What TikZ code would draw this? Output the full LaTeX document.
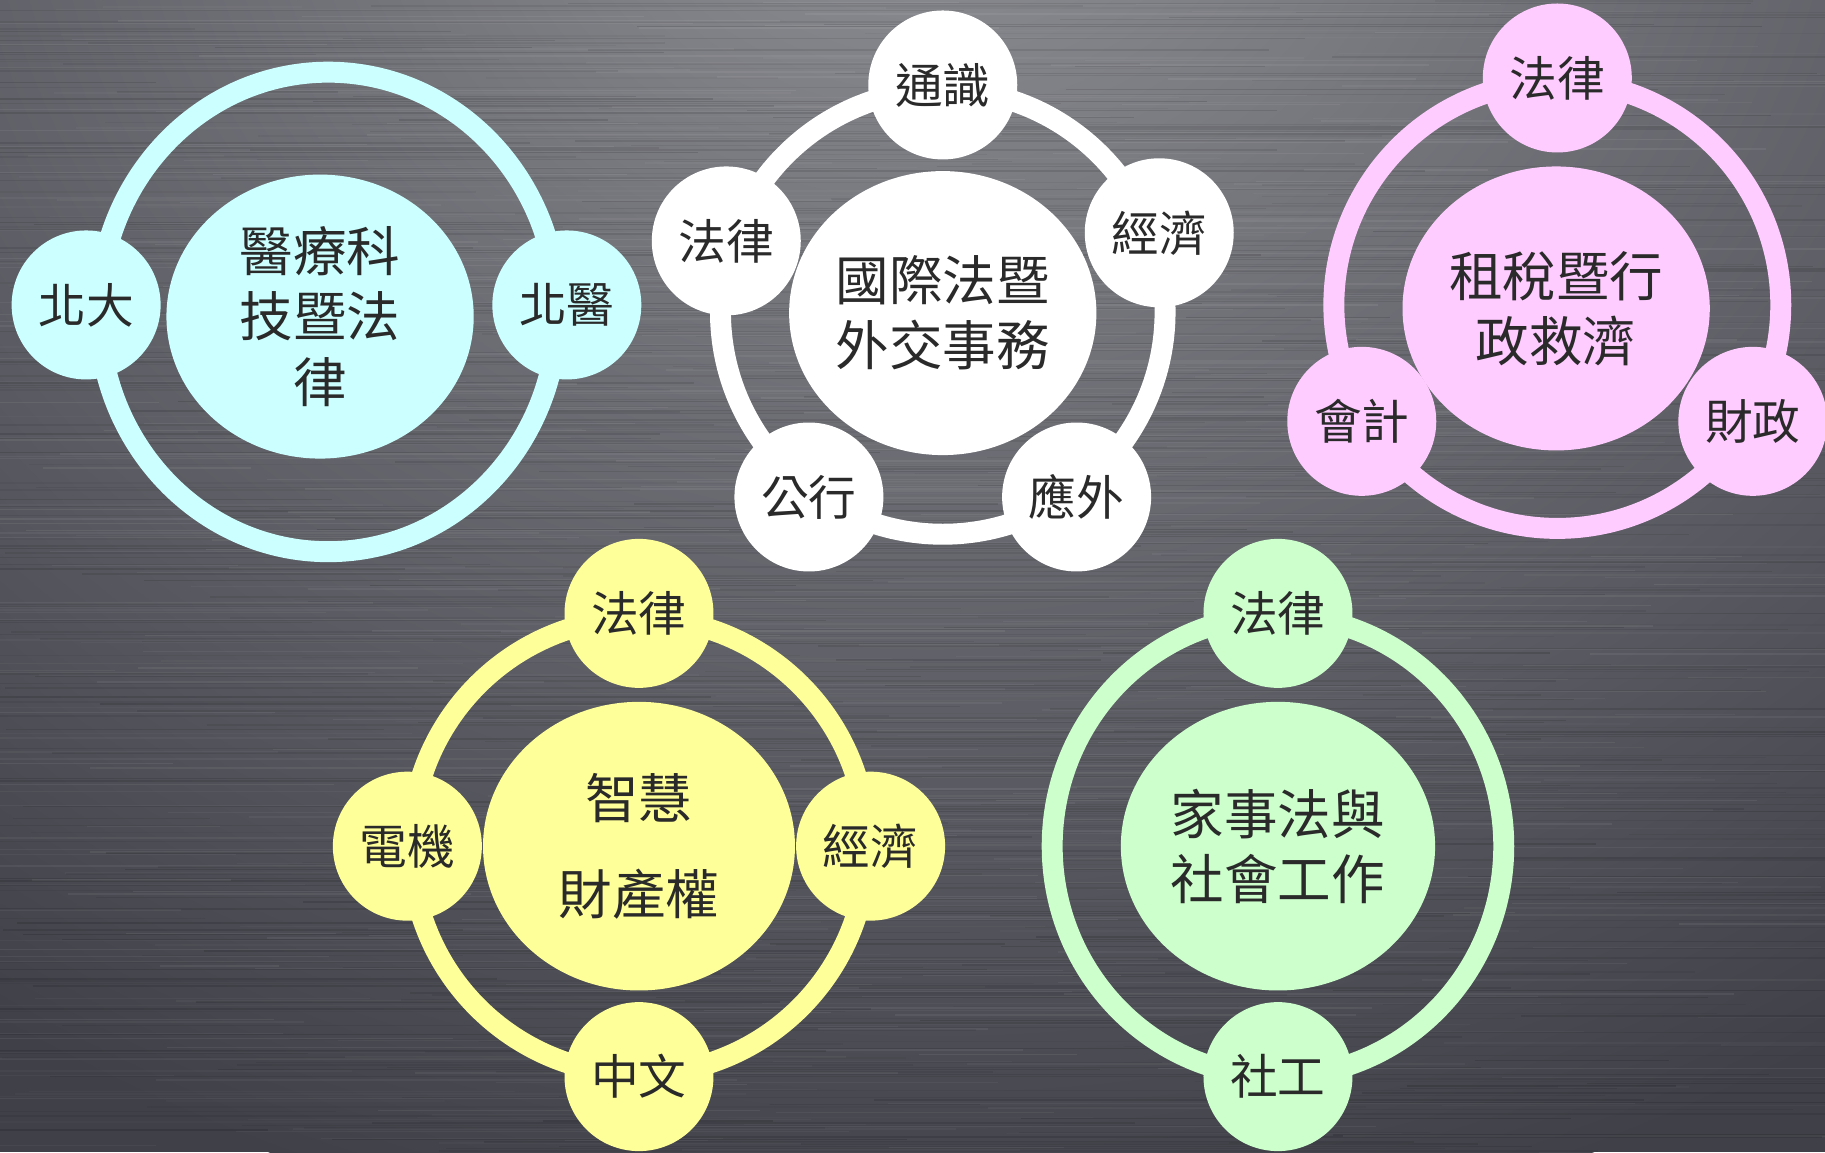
\documentclass[tikz,border=0pt]{standalone}
\usepackage{fontspec}
\newfontfamily\cjk{Noto Sans CJK TC}
\usetikzlibrary{shapes.geometric}
\definecolor{bgdark}{HTML}{3F4048}
\definecolor{bglight}{HTML}{909196}
\definecolor{cyanc}{HTML}{CCFFFF}
\definecolor{pinkc}{HTML}{FFCCFF}
\definecolor{yellowc}{HTML}{FFFF99}
\definecolor{greenc}{HTML}{CCFFCC}
\definecolor{whitec}{HTML}{FFFFFF}
\definecolor{txt}{HTML}{2A2A2A}
\begin{document}
\begin{tikzpicture}[x=0.5pt,y=-0.5pt,
  ring/.style={line width=9pt},
  streak/.style={line width=0.6pt},
  hub/.style={ellipse, minimum width=132pt, minimum height=122pt, inner sep=0pt,
    text=txt, font=\cjk\fontsize{23}{28}\selectfont, align=center},
  sat/.style={circle, minimum size=64pt, inner sep=0pt, text=txt,
    font=\cjk\fontsize{20.5}{24}\selectfont}]
% background
\fill[bgdark] (0,0) rectangle (1568,990);
\begin{scope}
  \clip (0,0) rectangle (1568,990);
  \shade[inner color=bglight, outer color=bgdark] (800,-160) ellipse (1450 and 1250);
  \pgfmathsetseed{7}
  \foreach \yy in {1,3,...,989} {
    \pgfmathsetmacro\xa{rnd*1568}
    \pgfmathsetmacro\la{150+rnd*900}
    \pgfmathsetmacro\oa{0.03+rnd*0.10}
    \draw[streak, black, opacity=\oa] (\xa-\la/2,\yy) -- (\xa+\la/2,\yy);
    \pgfmathsetmacro\xb{rnd*1568}
    \pgfmathsetmacro\lb{100+rnd*600}
    \pgfmathsetmacro\ob{0.02+rnd*0.05}
    \draw[streak, white, opacity=\ob] (\xb-\lb/2,\yy+1) -- (\xb+\lb/2,\yy+1);
  }
\end{scope}
\useasboundingbox (0,0) rectangle (1568,990);

% ---------- group 1 (cyan) ----------
\coordinate (r1) at (282,268);
\draw[ring, cyanc] (r1) ellipse (197 and 206);
\node[hub, fill=cyanc] (h1) at (275,272) {醫療科\\技暨法\\律};
\node[sat, fill=cyanc] (s1a) at (74,262) {北大};
\node[sat, fill=cyanc] (s1b) at (487,262) {北醫};

% ---------- group 2 (white) ----------
\coordinate (r2) at (810,268);
\draw[ring, whitec] (r2) circle (191);
\node[hub, fill=whitec] (h2) at (810,269) {國際法暨\\外交事務};
\node[sat, fill=whitec] (s2a) at (810,73) {通識};
\node[sat, fill=whitec] (s2b) at (996,200) {經濟};
\node[sat, fill=whitec] (s2c) at (925,427) {應外};
\node[sat, fill=whitec] (s2d) at (695,427) {公行};
\node[sat, fill=whitec] (s2e) at (624,207) {法律};

% ---------- group 3 (pink) ----------
\coordinate (r3) at (1338,262);
\draw[ring, pinkc] (r3) circle (192);
\node[hub, fill=pinkc] (h3) at (1337,265) {租稅暨行\\政救濟};
\node[sat, fill=pinkc] (s3a) at (1338,67) {法律};
\node[sat, fill=pinkc] (s3b) at (1170,362) {會計};
\node[sat, fill=pinkc] (s3c) at (1506,362) {財政};

% ---------- group 4 (yellow) ----------
\coordinate (r4) at (549,727);
\draw[ring, yellowc] (r4) circle (196);
\node[hub, fill=yellowc, minimum width=134pt, minimum height=124pt] (h4) at (549,727) {智慧\\[13pt]財產權};
\node[sat, fill=yellowc] (s4a) at (549,527) {法律};
\node[sat, fill=yellowc] (s4b) at (748,727) {經濟};
\node[sat, fill=yellowc] (s4c) at (549,925) {中文};
\node[sat, fill=yellowc] (s4d) at (350,727) {電機};

% ---------- group 5 (green) ----------
\coordinate (r5) at (1098,727);
\draw[ring, greenc] (r5) ellipse (194 and 198);
\node[hub, fill=greenc, minimum width=135pt, minimum height=124pt] (h5) at (1098,727) {家事法與\\社會工作};
\node[sat, fill=greenc] (s5a) at (1098,527) {法律};
\node[sat, fill=greenc] (s5b) at (1098,925) {社工};
\end{tikzpicture}
\end{document}
